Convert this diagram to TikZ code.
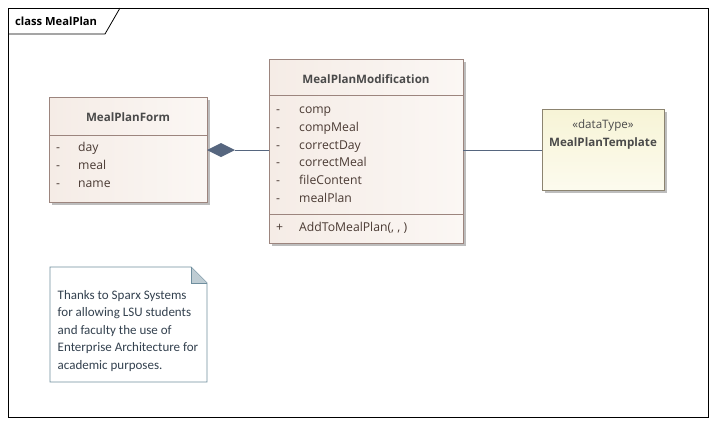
\documentclass[tikz,border=0pt]{standalone}
\usepackage{fontspec}
\setmainfont{Open Sans}
\newfontfamily\notefont{Carlito}
\usetikzlibrary{positioning}
\definecolor{clsfill}{HTML}{F5ECE6}
\definecolor{clsfillb}{HTML}{FBF7F4}
\definecolor{clsborder}{HTML}{9C857E}
\definecolor{tplfill}{HTML}{F7F4D6}
\definecolor{tplfillb}{HTML}{FCFBEE}
\definecolor{tplborder}{HTML}{8C8470}
\definecolor{notebord}{HTML}{6F8E9E}
\definecolor{linecol}{HTML}{56667F}
\definecolor{attrcol}{HTML}{4A3A33}
\definecolor{namecol}{HTML}{4A4A4A}
\definecolor{notetext}{HTML}{33414F}
\definecolor{shadowcol}{HTML}{BDBDBD}
\tikzset{
  clsbox/.style={draw=clsborder, line width=0.8pt, left color=clsfill, right color=clsfillb},
  tplbox/.style={draw=tplborder, line width=0.8pt, top color=tplfill, bottom color=tplfillb},
  shadowbox/.style={fill=shadowcol},
  clsname/.style={font=\fontsize{11.6}{13}\selectfont\bfseries, text=namecol},
  attr/.style={font=\fontsize{12.2}{14}\selectfont, text=attrcol, anchor=base west, inner sep=0pt},
  notetxt/.style={font=\notefont\fontsize{13}{17.5}\selectfont, text=notetext, align=left, anchor=north west, inner sep=0pt},
  conn/.style={draw=linecol, line width=0.9pt},
}
\begin{document}
\begin{tikzpicture}[x=1pt,y=-1pt]
\useasboundingbox (0,0) rectangle (715,424);
\fill[white] (0,0) rectangle (715,424);
% frame
\draw[black, line width=0.8pt] (8,8) rectangle (708,417);
\draw[black, line width=0.8pt] (8,34) -- (105,34) -- (120,8);
\node[font=\fontsize{11.2}{13}\selectfont\bfseries, anchor=base west, inner sep=0pt] (title) at (15,25) {class MealPlan};

% MealPlanForm
\fill[shadowbox] (52,100) rectangle (210,205);
\draw[clsbox] (49,97) rectangle (207,202);
\node[clsname] (formname) at (128,117) {MealPlanForm};
\draw[clsborder, line width=0.8pt] (49,135) -- (207,135);
\node[attr] (fa1d) at (56,151) {-};
\node[attr] (fa1) at (78,151) {day};
\node[attr] (fa2d) at (56,169) {-};
\node[attr] (fa2) at (78,169) {meal};
\node[attr] (fa3d) at (56,187) {-};
\node[attr] (fa3) at (78,187) {name};
\coordinate (formE) at (207,150);

% MealPlanModification
\fill[shadowbox] (272,62) rectangle (466,246);
\draw[clsbox] (269,59) rectangle (463,243);
\node[clsname] (modname) at (366,79) {MealPlanModification};
\draw[clsborder, line width=0.8pt] (269,95) -- (463,95);
\node[attr] (m1d) at (276,113) {-};
\node[attr] (m1) at (299,113) {comp};
\node[attr] (m2d) at (276,131) {-};
\node[attr] (m2) at (299,131) {compMeal};
\node[attr] (m3d) at (276,149) {-};
\node[attr] (m3) at (299,149) {correctDay};
\node[attr] (m4d) at (276,166) {-};
\node[attr] (m4) at (299,166) {correctMeal};
\node[attr] (m5d) at (276,184) {-};
\node[attr] (m5) at (299,184) {fileContent};
\node[attr] (m6d) at (276,202) {-};
\node[attr] (m6) at (299,202) {mealPlan};
\draw[clsborder, line width=0.8pt] (269,214) -- (463,214);
\node[attr] (opd) at (276,231) {+};
\node[attr] (op) at (299,231) {AddToMealPlan(, , )};
\coordinate (modW) at (269,150);
\coordinate (modE) at (463,150);

% MealPlanTemplate
\fill[shadowbox] (545,112) rectangle (667,193);
\draw[tplbox] (542,109) rectangle (664,190);
\node[font=\fontsize{11.6}{13}\selectfont, text=namecol] (tplst) at (603,125) {«dataType»};
\node[clsname] (tplname) at (603,143) {MealPlanTemplate};
\coordinate (tplW) at (542,150);

% connectors
\coordinate (dtip) at (235,150);
\draw[conn] (modW) -- (dtip);
\fill[linecol] (formE) -- (221,143) -- (dtip) -- (221,157) -- cycle;
\draw[conn] (modE) -- (tplW);

% note
\draw[notebord, line width=0.8pt, fill=white] (50,267) -- (191,267) -- (207,283) -- (207,382) -- (50,382) -- cycle;
\fill[notebord!45] (191,267) -- (191,283) -- (207,283) -- cycle;
\draw[notebord, line width=0.8pt] (191,267) -- (191,283) -- (207,283);
\node[notetxt] (notetext) at (57.5,290) {Thanks to Sparx Systems\\for allowing LSU students\\and faculty the use of\\Enterprise Architecture for\\academic purposes.};
\end{tikzpicture}
\end{document}
